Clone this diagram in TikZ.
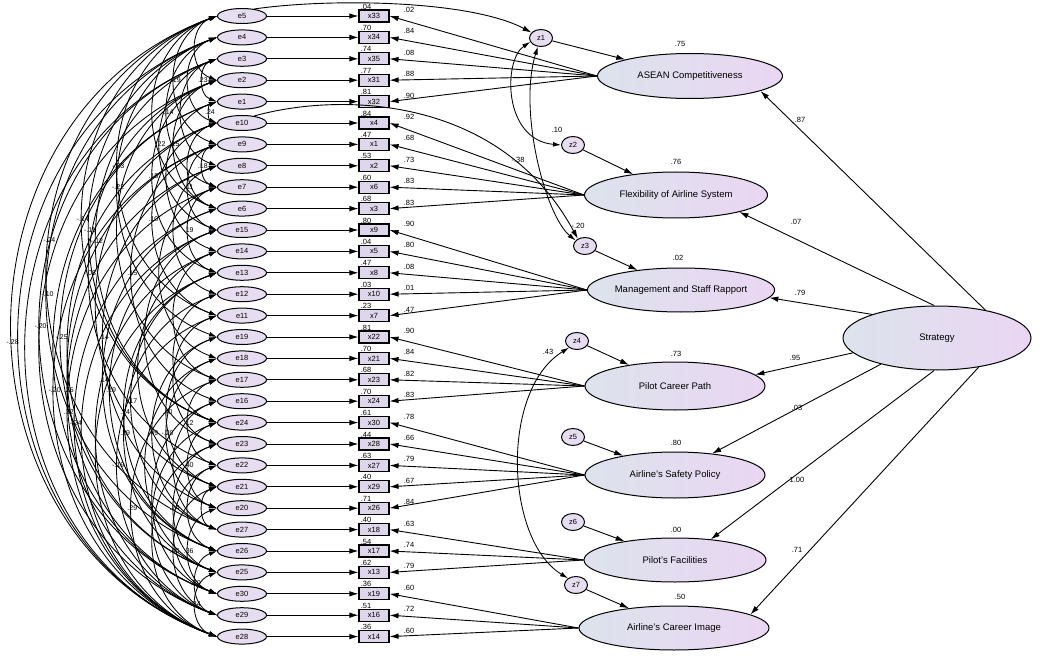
\documentclass[tikz,border=0pt]{standalone}
\usepackage{fontspec}
\setmainfont{Liberation Sans}
\usetikzlibrary{arrows.meta,shapes.geometric,calc}
\definecolor{errfill}{HTML}{E6DEF0}
\definecolor{boxfill}{HTML}{DED6EA}
\definecolor{latl}{HTML}{DCE3EC}
\definecolor{latr}{HTML}{EAD6F3}
\begin{document}
\begin{tikzpicture}[x=1pt,y=1pt,
  errnode/.style={ellipse, draw, line width=1pt, fill=errfill, minimum width=49pt, minimum height=15pt, inner sep=0pt, font=\fontsize{7.5}{8}\selectfont},
  obsbox/.style={rectangle, draw, line width=1.1pt, fill=boxfill, minimum width=30pt, minimum height=12pt, inner sep=0pt, font=\fontsize{7.5}{8}\selectfont},
  latent/.style={ellipse, draw, line width=1pt, left color=latl, right color=latr, inner sep=0pt, font=\fontsize{9.5}{10}\selectfont},
  dist/.style={ellipse, draw, line width=1pt, fill=errfill, minimum width=23pt, minimum height=17pt, inner sep=0pt, font=\fontsize{7.5}{8}\selectfont},
  reg/.style={line width=0.9pt, -{Latex[length=9pt,width=5.5pt]}},
  cov/.style={line width=0.85pt, {Latex[length=8pt,width=4.8pt]}-{Latex[length=8pt,width=4.8pt]}},
  lbl/.style={inner sep=0.5pt, font=\fontsize{7.5}{8}\selectfont},
  slbl/.style={inner sep=0.3pt, font=\fontsize{7}{7}\selectfont},
]
\useasboundingbox (0,0) rectangle (1045,-666);
\fill[white] (0,0) rectangle (1045,-666);

% latent variables
\node[latent, minimum width=185pt, minimum height=45pt] (A) at (690,-76) {ASEAN Competitiveness};
\node[latent, minimum width=183pt, minimum height=46pt] (F) at (676,-195) {Flexibility of Airline System};
\node[latent, minimum width=178pt, minimum height=44pt] (M) at (681,-290) {Management and Staff Rapport};
\node[latent, minimum width=180pt, minimum height=48pt] (P) at (675,-386) {Pilot Career Path};
\node[latent, minimum width=180pt, minimum height=46pt] (S) at (675,-475) {Airline's Safety Policy};
\node[latent, minimum width=182pt, minimum height=44pt] (C) at (675,-560) {Pilot's Facilities};
\node[latent, minimum width=190pt, minimum height=44pt] (I) at (674,-628) {Airline's Career Image};
\node[latent, minimum width=188pt, minimum height=64pt] (St) at (937,-338) {Strategy};

\node[lbl] at (680,-44) {.75};
\node[lbl] at (676,-162) {.76};
\node[lbl] at (678,-258) {.02};
\node[lbl] at (676,-354) {.73};
\node[lbl] at (676,-443) {.80};
\node[lbl] at (676,-530) {.00};
\node[lbl] at (680,-597) {.50};

% disturbances
\node[dist] (z1) at (541,-38) {z1};
\node[dist] (z2) at (573,-145) {z2};
\node[dist] (z3) at (585,-246) {z3};
\node[dist] (z4) at (577,-341) {z4};
\node[dist] (z5) at (573,-437) {z5};
\node[dist] (z6) at (573,-522) {z6};
\node[dist] (z7) at (576,-585) {z7};
\draw[reg] (z1) -- (A);
\draw[reg] (z2) -- (F);
\draw[reg] (z3) -- (M);
\draw[reg] (z4) -- (P);
\draw[reg] (z5) -- (S);
\draw[reg] (z6) -- (C);
\draw[reg] (z7) -- (I);

% errors, indicators, loadings
\foreach \i/\e/\b/\r/\L/\l in {
 0/e5/x33/.04/A/.02, 1/e4/x34/.70/A/.84, 2/e3/x35/.74/A/.08, 3/e2/x31/.77/A/.88, 4/e1/x32/.81/A/.90,
 5/e10/x4/.84/F/.92, 6/e9/x1/.47/F/.68, 7/e8/x2/.53/F/.73, 8/e7/x6/.60/F/.83, 9/e6/x3/.68/F/.83,
 10/e15/x9/.80/M/.90, 11/e14/x5/.04/M/.80, 12/e13/x8/.47/M/.08, 13/e12/x10/.03/M/.01, 14/e11/x7/.23/M/.47,
 15/e19/x22/.81/P/.90, 16/e18/x21/.70/P/.84, 17/e17/x23/.68/P/.82, 18/e16/x24/.70/P/.83,
 19/e24/x30/.61/S/.78, 20/e23/x28/.44/S/.66, 21/e22/x27/.63/S/.79, 22/e21/x29/.40/S/.67, 23/e20/x26/.71/S/.84,
 24/e27/x18/.40/C/.63, 25/e26/x17/.54/C/.74, 26/e25/x13/.62/C/.79,
 27/e30/x19/.36/I/.60, 28/e29/x16/.51/I/.72, 29/e28/x14/.36/I/.60}{
  \pgfmathsetmacro\yy{-(16+21.4*\i)}
  \node[errnode] (\e) at (242,\yy) {\e};
  \node[obsbox] (\b) at (374,\yy) {\b};
  \node[lbl] at (366,\yy+9.5) {\r};
  \draw[reg] (\e) -- (\b);
  \draw[reg] (\L.west) -- (\b.east);
  \node[lbl] at (409,\yy+6) {\l};
}

% structural paths from Strategy
\draw[reg] (St.30) -- (A.-12);
\draw[reg] (St.95) -- (F.-15);
\draw[reg] (St.160) -- (M.-5);
\draw[reg] (St.190) -- (P.8);
\draw[reg] (St.205) -- (S.30);
\draw[reg] (St.265) -- (C.30);
\draw[reg] (St.325) -- (I.10);
\node[lbl] at (800,-120) {.87};
\node[lbl] at (796,-222) {.07};
\node[lbl] at (800,-293) {.79};
\node[lbl] at (795,-358) {.95};
\node[lbl] at (797,-408) {.03};
\node[lbl] at (797,-480) {1.00};
\node[lbl] at (797,-550) {.71};

% covariances on the right
\draw[reg] (e5.30) .. controls (330,2) and (470,0) .. (z1.150);
\draw[reg] (e10.30) .. controls (340,-92) and (500,-95) .. (z3.135);
\node[lbl] at (518,-160) {-.38};
\draw[cov] (z1.200) .. controls (503,-60) and (503,-140) .. (z2.west);
\node[lbl] at (557,-130) {.10};
\draw[cov] (z1.250) .. controls (518,-110) and (545,-215) .. (z3.150);
\node[lbl] at (578,-226) {-.20};
\draw[cov] (z4.220) .. controls (500,-390) and (505,-540) .. (z7.140);
\node[lbl] at (548,-352) {.43};

% error covariances (left)
\foreach \a/\b/\t/\p in {
 e5/e9/-.19/.5, e3/e1/.23/.5, e4/e7/-.14/.5, e1/e10/.24/.5, e3/e15/.22/.5, e2/e6/.15/.5,
 e5/e11/-.23/.5, e2/e13/.18/.5, e9/e7/.18/.5, e4/e19/-.22/.5, e9/e15/.11/.5, e5/e24/-.14/.5,
 e4/e24/-.11/.5, e3/e24/-.12/.5, e5/e27/-.24/.45, e2/e22/-.08/.5, e9/e16/.15/.5, e10/e11/.10/.5,
 e7/e13/.19/.5, e4/e26/-.10/.5, e3/e30/-.20/.5, e1/e25/-.25/.5, e5/e28/-.28/.52, e8/e20/.14/.5,
 e9/e28/-.20/.5, e8/e29/.25/.5, e15/e26/.19/.5, e6/e26/.14/.5, e13/e27/.17/.5, e19/e21/.40/.5,
 e13/e26/.24/.5, e7/e28/.32/.5, e17/e22/.12/.5, e18/e20/-.20/.5, e6/e28/-.24/.5, e12/e25/.29/.5,
 e19/e27/.49/.5, e11/e29/-.19/.5, e24/e20/.40/.5, e17/e28/.29/.5, e23/e25/.24/.5, e21/e29/.40/.5,
 e20/e30/.36/.5, e26/e29/.20/.5, e25/e28/.34/.5}{
  \draw[cov] (\a.west) to[out=200,in=160,looseness=1.2] node[slbl,pos=\p]{\t} (\b.west);
}
\foreach \a/\b in {
 e5/e2, e4/e10, e5/e6, e3/e8, e1/e14, e10/e6, e8/e12, e7/e18, e15/e23, e14/e17, e12/e24,
 e11/e23, e18/e25, e16/e30, e24/e29, e23/e28, e22/e30, e2/e17, e10/e21, e15/e28, e14/e29,
 e13/e28, e4/e28, e3/e28, e2/e29, e1/e30, e10/e25, e9/e30, e14/e21, e16/e27, e22/e26, e21/e27}{
  \draw[cov] (\a.west) to[out=200,in=160,looseness=1.2] (\b.west);
}
\end{tikzpicture}
\end{document}
